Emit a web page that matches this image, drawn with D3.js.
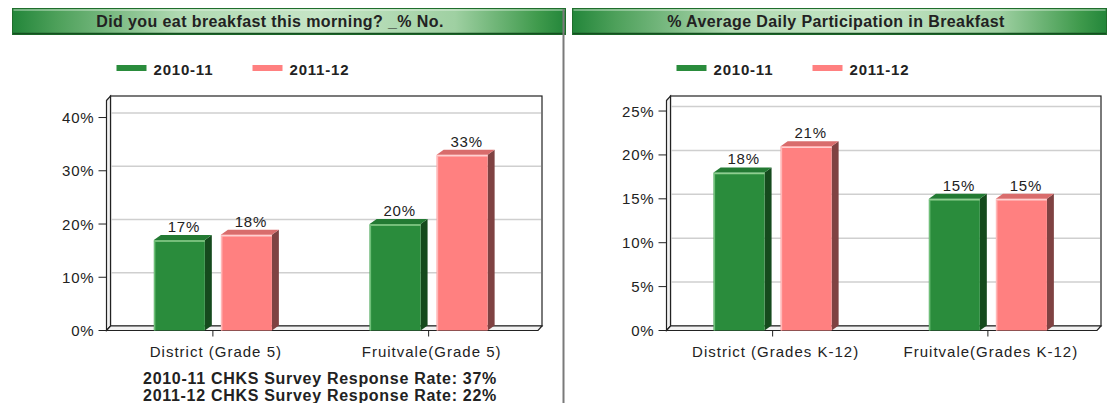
<!DOCTYPE html>
<html>
<head>
<meta charset="utf-8">
<script src="https://cdn.jsdelivr.net/npm/d3@7"></script>
<style>
  html, body { margin: 0; padding: 0; background: #fff; }
  svg { display: block; }
  text { font-family: "Liberation Sans", Arial, sans-serif; fill: #222; }
</style>
</head>
<body>
<svg id="chart" width="1108" height="403"></svg>
<script>
// ---- data ----
const seriesNames = ["2010-11", "2011-12"];
const seriesColors = ["#2a8c3c", "#ff8080"];

const breakfastTitle = "Did you eat breakfast this morning? _% No.";
const breakfastCategories = ["District (Grade 5)", "Fruitvale(Grade 5)"];
const breakfastNo2010 = [0.17, 0.20];
const breakfastNo2011 = [0.18, 0.33];
const breakfastTicks = [0, 0.1, 0.2, 0.3, 0.4];
const breakfastFooter = [
  "2010-11 CHKS Survey Response Rate: 37%",
  "2011-12 CHKS Survey Response Rate: 22%"
];

const participationTitle = "% Average Daily Participation in Breakfast";
const participationCategories = ["District (Grades K-12)", "Fruitvale(Grades K-12)"];
const participation2010 = [0.18, 0.15];
const participation2011 = [0.21, 0.15];
const participationTicks = [0, 0.05, 0.1, 0.15, 0.2, 0.25];

// ---- shared styling ----
const pct = d3.format(".0%");
const wallDx = 4, wallDy = 4.5;   // depth of the chart walls
const barDx = 7, barDy = 5;       // depth of each 3D bar
const shade = {
  "#2a8c3c": { side: "#154a1d", top: "#237a33", hiTop: "#8fcf8f", hiLeft: "#6fbf78" },
  "#ff8080": { side: "#7f4242", top: "#d96c6c", hiTop: "#ffd0d0", hiLeft: "#ffb8b8" }
};

const svg = d3.select("#chart");
const defs = svg.append("defs");
const grad = defs.append("linearGradient").attr("id", "titleGrad")
  .attr("x1", "0%").attr("x2", "100%").attr("y1", "0%").attr("y2", "0%");
[[0, "#23863a"], [0.08, "#4da05a"], [0.3, "#b0d9b2"], [0.55, "#c6e5c6"], [0.8, "#9fd0a2"], [0.95, "#3f9a4c"], [1, "#23863a"]]
  .forEach(([o, c]) => grad.append("stop").attr("offset", o).attr("stop-color", c));

function titleBar(x, w, cx, label) {
  const g = svg.append("g");
  g.append("rect").attr("x", x + 0.5).attr("y", 8.5).attr("width", w).attr("height", 26)
    .attr("fill", "url(#titleGrad)").attr("stroke", "#1f6e2c").attr("stroke-width", 1);
  g.append("line").attr("x1", x + 1.5).attr("x2", x + w - 0.5).attr("y1", 10).attr("y2", 10)
    .attr("stroke", "#e6f4e6").attr("stroke-opacity", 0.8);
  g.append("line").attr("x1", x + 1).attr("x2", x + w).attr("y1", 33.5).attr("y2", 33.5)
    .attr("stroke", "#145020").attr("stroke-width", 1.5);
  g.append("text").attr("x", cx).attr("y", 27).attr("text-anchor", "middle")
    .style("font-weight", "bold").style("font-size", "16px").style("letter-spacing", "0.4px")
    .text(label);
}

function drawChart(cfg) {
  const g = svg.append("g");
  const { left, right, bottom, top } = cfg;

  const x0 = d3.scaleBand().domain(cfg.categories).range([left - 1.5, right - 1.5]);
  const x1 = d3.scaleBand().domain(seriesNames).range([-59, 59]).paddingInner(0.24);
  const y = d3.scaleLinear().domain([0, cfg.yMax]).range([bottom, top]);

  // back wall
  g.append("rect").attr("x", left + wallDx).attr("y", top - wallDy)
    .attr("width", right - left).attr("height", bottom - top)
    .attr("fill", "#fff").attr("stroke", "#222").attr("stroke-width", 1.2);

  // grid lines on the back wall
  g.selectAll(".grid").data(cfg.ticks.filter(t => t > 0)).join("line")
    .attr("x1", left + wallDx + 1).attr("x2", right + wallDx - 1)
    .attr("y1", d => y(d) - wallDy).attr("y2", d => y(d) - wallDy)
    .attr("stroke", "#cfcfcf").attr("stroke-width", 1.5);

  // left wall and floor
  g.append("path")
    .attr("d", `M${left},${top}L${left + wallDx},${top - wallDy}L${left + wallDx},${bottom - wallDy}L${left},${bottom}Z`)
    .attr("fill", "#f2f2f2").attr("stroke", "#222").attr("stroke-width", 1.2);
  g.append("path")
    .attr("d", `M${left},${bottom}L${left + wallDx},${bottom - wallDy}L${right + wallDx},${bottom - wallDy}L${right},${bottom}Z`)
    .attr("fill", "#f2f2f2").attr("stroke", "#222").attr("stroke-width", 1.2);

  // y axis ticks and labels
  const yt = g.append("g");
  yt.selectAll("line").data(cfg.ticks).join("line")
    .attr("x1", left - 8).attr("x2", left).attr("y1", d => y(d)).attr("y2", d => y(d))
    .attr("stroke", "#222");
  yt.selectAll("text").data(cfg.ticks).join("text")
    .attr("x", left - 12).attr("y", d => y(d) + 5.5).attr("text-anchor", "end")
    .style("font-size", "15px").style("letter-spacing", "0.8px")
    .text(d => pct(d));

  // x axis ticks and category labels
  const xt = g.append("g");
  xt.selectAll("line").data(cfg.categories).join("line")
    .attr("x1", d => x0(d) + x0.bandwidth() / 2).attr("x2", d => x0(d) + x0.bandwidth() / 2)
    .attr("y1", bottom).attr("y2", bottom + 6).attr("stroke", "#222");
  xt.selectAll("text").data(cfg.categories).join("text")
    .attr("x", d => x0(d) + x0.bandwidth() / 2 + 3).attr("y", bottom + 26)
    .attr("text-anchor", "middle").style("font-size", "15px").style("letter-spacing", "1px")
    .text(d => d);

  // 3D bars
  const rows = [];
  cfg.categories.forEach((c, i) => {
    cfg.series.forEach((vals, s) => rows.push({ cat: c, name: seriesNames[s], color: seriesColors[s], v: vals[i] }));
  });
  const bw = x1.bandwidth();
  const bars = g.selectAll(".bar").data(rows).join("g");
  bars.each(function (d) {
    const b = d3.select(this);
    const bx = x0(d.cat) + x0.bandwidth() / 2 + x1(d.name);
    const by = y(d.v);
    const sh = shade[d.color];
    b.append("path")
      .attr("d", `M${bx + bw},${by}L${bx + bw + barDx},${by - barDy}L${bx + bw + barDx},${bottom - barDy}L${bx + bw},${bottom}Z`)
      .attr("fill", sh.side);
    b.append("path")
      .attr("d", `M${bx},${by}L${bx + barDx},${by - barDy}L${bx + bw + barDx},${by - barDy}L${bx + bw},${by}Z`)
      .attr("fill", sh.top);
    b.append("rect").attr("x", bx).attr("y", by).attr("width", bw).attr("height", bottom - by)
      .attr("fill", d.color);
    b.append("line").attr("x1", bx).attr("x2", bx + bw).attr("y1", by + 1).attr("y2", by + 1)
      .attr("stroke", sh.hiTop).attr("stroke-width", 1.5);
    b.append("line").attr("x1", bx + 0.75).attr("x2", bx + 0.75).attr("y1", by + 1).attr("y2", bottom)
      .attr("stroke", sh.hiLeft).attr("stroke-width", 1.5);
    b.append("text").attr("x", bx + (bw + barDx) / 2 + 1).attr("y", by - barDy - 3)
      .attr("text-anchor", "middle").style("font-size", "15px").style("letter-spacing", "0.8px")
      .text(pct(d.v));
  });

  // legend
  const lg = g.append("g");
  seriesNames.forEach((n, i) => {
    const lx = left + 10 + i * 136;
    lg.append("rect").attr("x", lx).attr("y", 65).attr("width", 30).attr("height", 6).attr("fill", seriesColors[i]);
    lg.append("text").attr("x", lx + 37).attr("y", 75)
      .style("font-weight", "bold").style("font-size", "15px").style("letter-spacing", "0.8px")
      .text(n);
  });

  // footer notes
  (cfg.footer || []).forEach((t, i) => {
    g.append("text").attr("x", cfg.footerX).attr("y", 384 + i * 17).attr("text-anchor", "middle")
      .style("font-weight", "bold").style("font-size", "16px").style("letter-spacing", "0.7px")
      .text(t);
  });
}

titleBar(12, 553, 270, breakfastTitle);
titleBar(572, 534, 836, participationTitle);

drawChart({
  left: 106.5, right: 538, top: 100.5, bottom: 330.5, yMax: 0.432,
  categories: breakfastCategories, series: [breakfastNo2010, breakfastNo2011],
  ticks: breakfastTicks, footer: breakfastFooter, footerX: 320
});
drawChart({
  left: 666.5, right: 1097, top: 100.5, bottom: 330.5, yMax: 0.262,
  categories: participationCategories, series: [participation2010, participation2011],
  ticks: participationTicks
});

// panel divider
svg.append("line").attr("x1", 563.5).attr("x2", 563.5).attr("y1", 9).attr("y2", 403)
  .attr("stroke", "#7a7a7a").attr("stroke-width", 2);
</script>
</body>
</html>
